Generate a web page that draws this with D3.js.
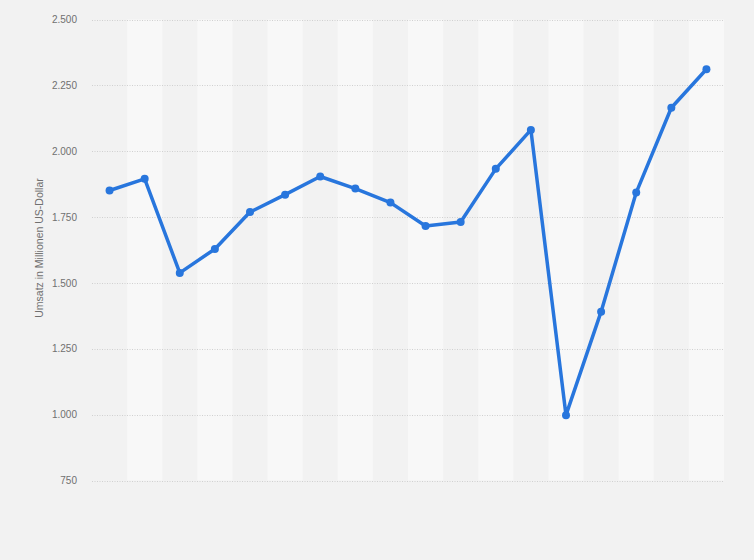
<!DOCTYPE html>
<html>
<head>
<meta charset="utf-8">
<script src="https://cdn.jsdelivr.net/npm/d3@7"></script>
<style>
  html, body { margin: 0; padding: 0; background: #f2f2f2; }
  svg { display: block; }
</style>
</head>
<body>
<svg id="chart" width="754" height="560"></svg>
<script>
const categories = ["1","2","3","4","5","6","7","8","9","10","11","12","13","14","15","16","17","18"];
const values = [1851, 1895, 1538, 1629, 1769, 1835, 1904, 1858, 1805, 1716, 1731, 1933, 2081, 998, 1391, 1843, 2165, 2311];
const yTicks = [750, 1000, 1250, 1500, 1750, 2000, 2250, 2500];
const yTitle = "Umsatz in Millionen US-Dollar";

const svg = d3.select("#chart");
const W = 754, H = 560;
const m = { left: 92, right: 30, top: 19.5, bottom: 79.5 };

svg.append("rect").attr("width", W).attr("height", H).attr("fill", "#f2f2f2");

const x = d3.scaleBand().domain(categories).range([m.left, W - m.right]).padding(0);
const y = d3.scaleLinear().domain([750, 2500]).range([H - m.bottom, m.top]);

// alternating column bands
svg.append("g").selectAll("rect")
  .data(categories.filter((d, i) => i % 2 === 1))
  .join("rect")
  .attr("x", d => x(d))
  .attr("y", m.top)
  .attr("width", x.bandwidth())
  .attr("height", y(750) - m.top)
  .attr("fill", "#f8f8f8");

// gridlines
svg.append("g").selectAll("line")
  .data(yTicks)
  .join("line")
  .attr("x1", m.left).attr("x2", W - m.right)
  .attr("y1", d => Math.round(y(d)) + 0.5).attr("y2", d => Math.round(y(d)) + 0.5)
  .attr("stroke", "#d0d0d0")
  .attr("stroke-width", 1)
  .attr("stroke-dasharray", "1,1.5");

// y axis
const yAxis = d3.axisLeft(y)
  .tickValues(yTicks)
  .tickSize(0)
  .tickPadding(15)
  .tickFormat(d => d3.format(",")(d).replace(/,/g, "."));
const ga = svg.append("g").attr("transform", `translate(${m.left},0)`).call(yAxis);
ga.select(".domain").remove();
ga.selectAll("text")
  .attr("fill", "#707070")
  .attr("font-family", "'Liberation Sans', Arial, sans-serif")
  .attr("font-size", "10px");

// y title
svg.append("text")
  .attr("transform", `translate(43,${(y(750) + y(2500)) / 2 - 2}) rotate(-90)`)
  .attr("text-anchor", "middle")
  .attr("fill", "#707070")
  .attr("font-family", "'Liberation Sans', Arial, sans-serif")
  .attr("font-size", "10.5px")
  .text(yTitle);

const color = "#2876dd";
const line = d3.line()
  .x((d, i) => x(categories[i]) + x.bandwidth() / 2)
  .y(d => y(d));

svg.append("path")
  .datum(values)
  .attr("d", line)
  .attr("fill", "none")
  .attr("stroke", color)
  .attr("stroke-width", 3.5)
  .attr("stroke-linejoin", "round")
  .attr("stroke-linecap", "round");

svg.append("g").selectAll("circle")
  .data(values)
  .join("circle")
  .attr("cx", (d, i) => x(categories[i]) + x.bandwidth() / 2)
  .attr("cy", d => y(d))
  .attr("r", 4)
  .attr("fill", color);
</script>
</body>
</html>
